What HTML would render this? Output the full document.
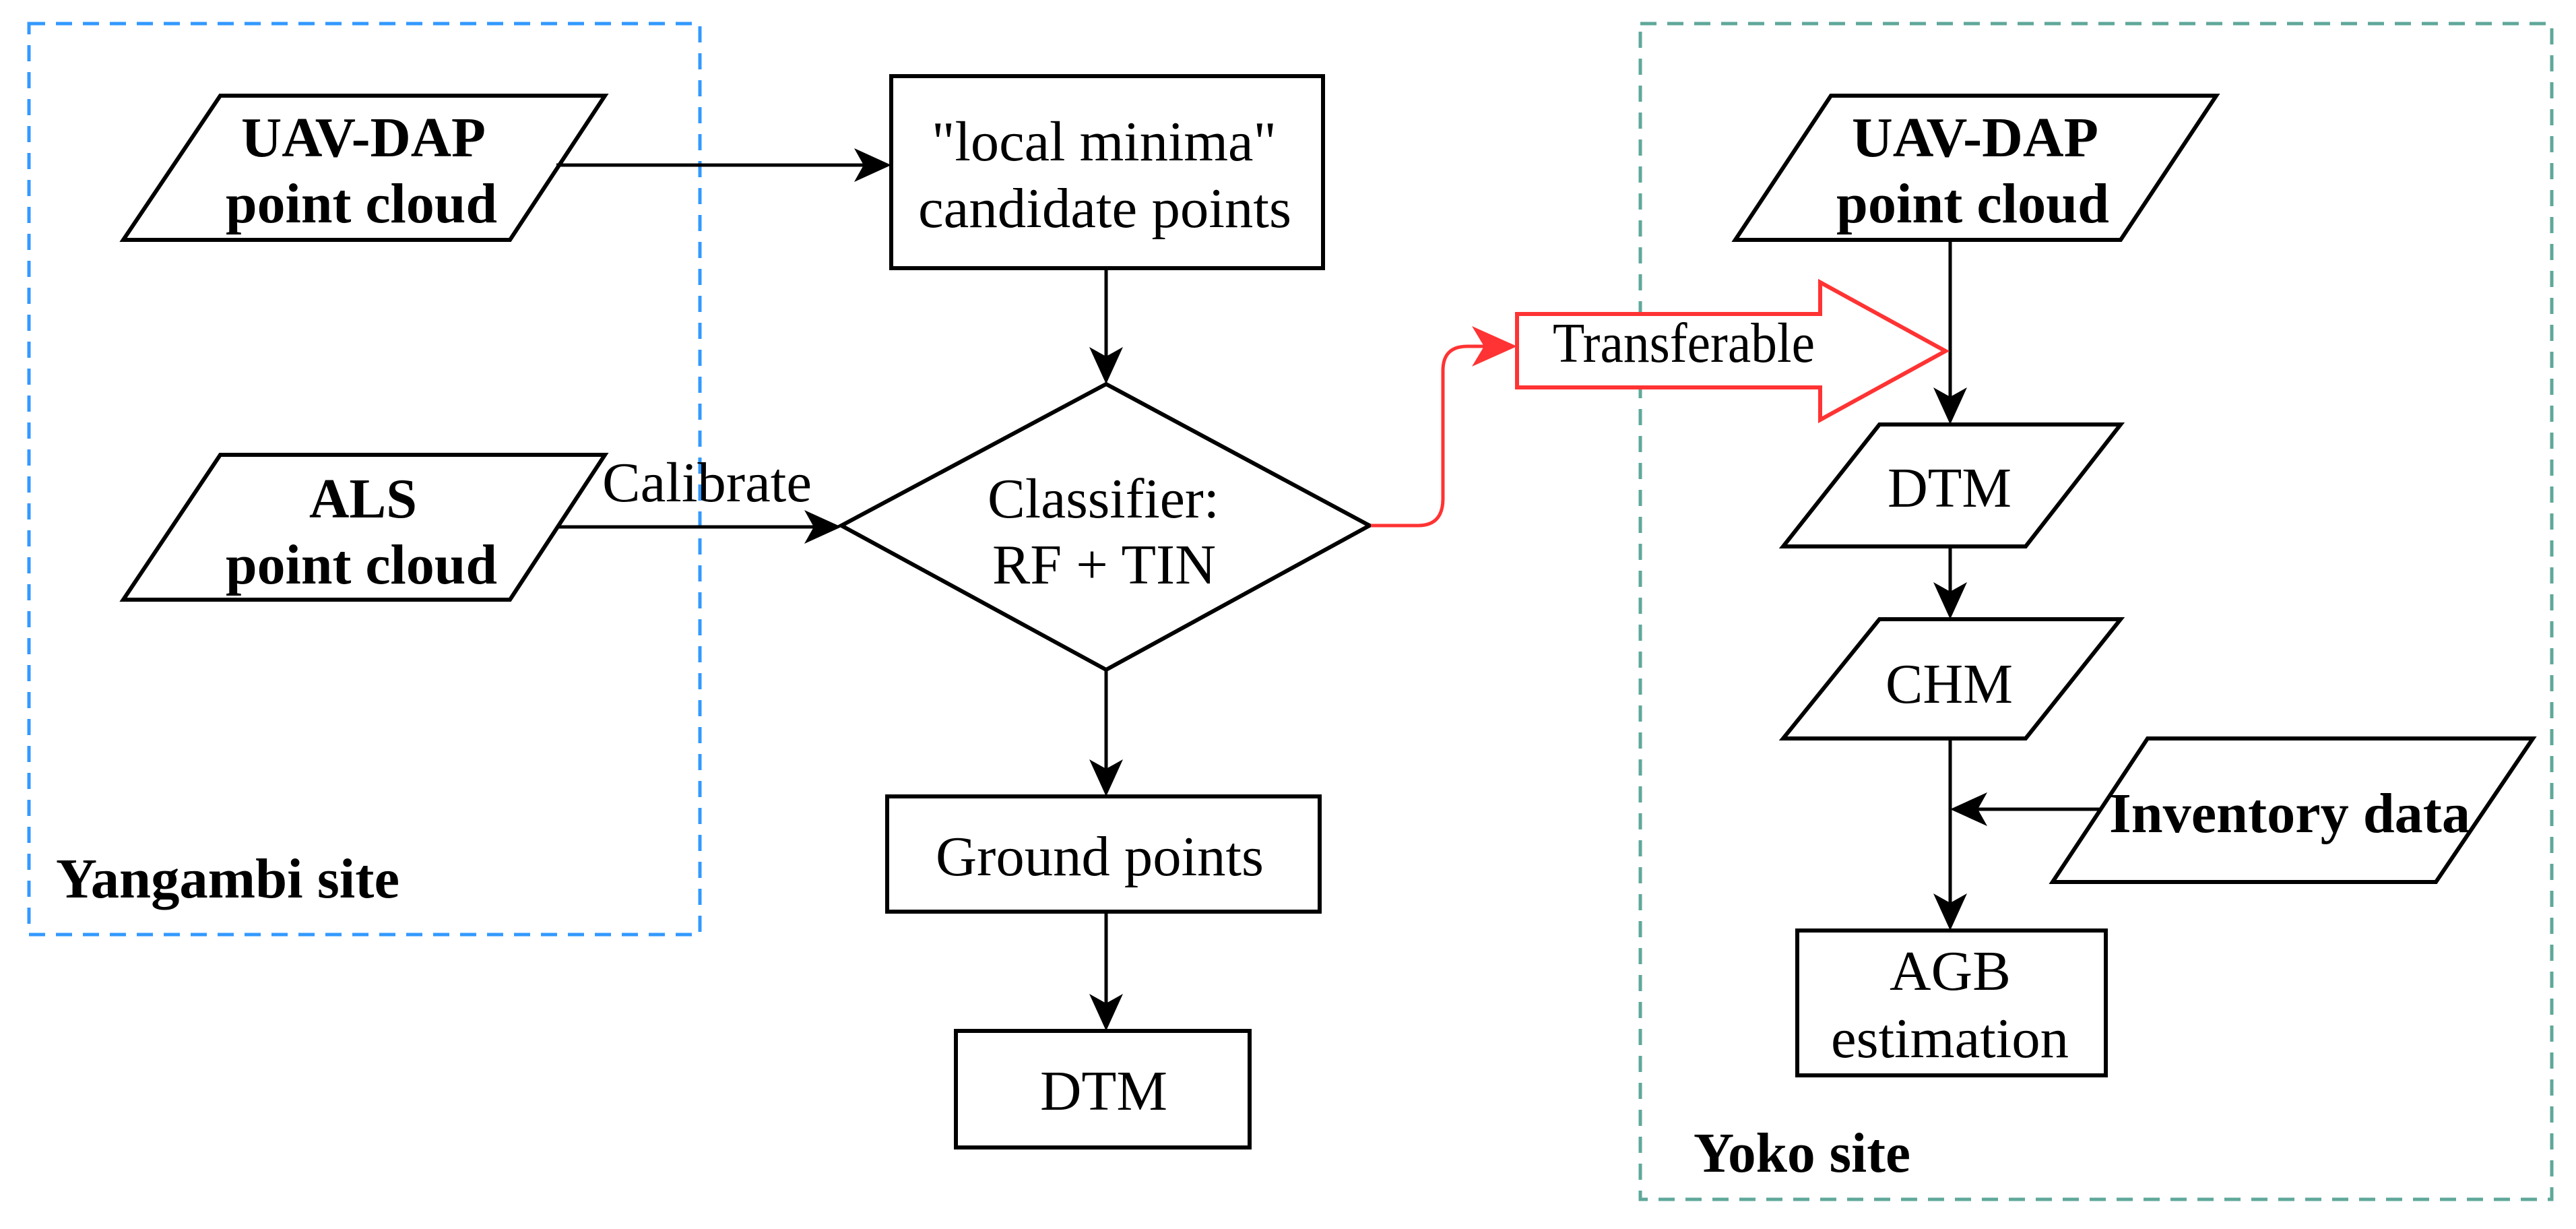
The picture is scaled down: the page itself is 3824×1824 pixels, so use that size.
<!DOCTYPE html>
<html><head><meta charset="utf-8"><style>html,body{margin:0;padding:0;background:#fff}svg{display:block}</style></head>
<body>
<svg width="3824" height="1824" viewBox="0 0 3824 1824" xmlns="http://www.w3.org/2000/svg" font-family="Liberation Serif, serif">
<rect width="3824" height="1824" fill="#fff"/>
<!-- group boxes -->
<rect x="43" y="35" width="996" height="1352" fill="none" stroke="#3399ff" stroke-width="5" stroke-dasharray="24,16"/>
<rect x="2435" y="35" width="1353" height="1745" fill="none" stroke="#5fa89a" stroke-width="5" stroke-dasharray="24,16"/>

<g fill="none" stroke="#000" stroke-width="6">
<!-- left parallelograms -->
<polygon points="327,142 898,142 757,356 183,356"/>
<polygon points="327,675 898,675 757,890 183,890"/>
<rect x="1323" y="113" width="641" height="285"/>
<polygon points="1642,570 2033,780 1642,994 1249,780"/>
<rect x="1317" y="1182" width="642" height="171"/>
<rect x="1419" y="1530" width="436" height="173"/>
<!-- right side -->
<polygon points="2718,142 3290,142 3148,356 2576,356"/>
<polygon points="2790,630 3148,630 3007,811 2647,811"/>
<polygon points="2790,919 3148,919 3007,1096 2647,1096"/>
<polygon points="3188,1096 3760,1096 3616,1309 3047,1309"/>
<rect x="2668" y="1381" width="458" height="215"/>
</g>

<g stroke="#000" stroke-width="5" fill="none">
<line x1="826" y1="245" x2="1290" y2="245"/>
<line x1="826" y1="782" x2="1215" y2="782"/>
<line x1="1642" y1="398" x2="1642" y2="540"/>
<line x1="1642" y1="994" x2="1642" y2="1150"/>
<line x1="1642" y1="1353" x2="1642" y2="1500"/>
<line x1="2895" y1="356" x2="2895" y2="600"/>
<line x1="2895" y1="811" x2="2895" y2="890"/>
<line x1="2895" y1="1096" x2="2895" y2="1350"/>
<line x1="3118" y1="1201" x2="2925" y2="1201"/>
</g>
<g fill="#000">
<polygon points="1323,245 1268,220 1282,245 1268,270"/>
<polygon points="1249,782 1194,757 1208,782 1194,807"/>
<polygon points="1642,570 1617,515 1642,529 1667,515"/>
<polygon points="1642,1182 1617,1127 1642,1141 1667,1127"/>
<polygon points="1642,1530 1617,1475 1642,1489 1667,1475"/>
<polygon points="2895,630 2870,575 2895,589 2920,575"/>
<polygon points="2895,919 2870,864 2895,878 2920,864"/>
<polygon points="2895,1381 2870,1326 2895,1340 2920,1326"/>
<polygon points="2895,1201 2950,1176 2936,1201 2950,1226"/>
</g>

<!-- red connector and block arrow -->
<path d="M2035,780 H2105 Q2142,780 2142,740 V550 Q2142,514 2178,514 H2215" fill="none" stroke="#ff3333" stroke-width="5"/>
<polygon points="2252,514 2185,484 2203,514 2185,544" fill="#ff3333"/>
<polygon points="2252,466 2702,466 2702,419 2888,521 2702,623 2702,575 2252,575" fill="#fff" stroke="#ff3333" stroke-width="6"/>

<!-- texts -->
<g font-size="84" fill="#000">
<g font-weight="bold">
<text x="358" y="232" textLength="363" lengthAdjust="spacingAndGlyphs">UAV-DAP</text>
<text x="335" y="330" textLength="403" lengthAdjust="spacingAndGlyphs">point cloud</text>
<text x="459" y="768" textLength="160" lengthAdjust="spacingAndGlyphs">ALS</text>
<text x="335" y="866" textLength="403" lengthAdjust="spacingAndGlyphs">point cloud</text>
<text x="83" y="1332" textLength="510" lengthAdjust="spacingAndGlyphs">Yangambi site</text>
<text x="2749" y="232" textLength="366" lengthAdjust="spacingAndGlyphs">UAV-DAP</text>
<text x="2726" y="330" textLength="405" lengthAdjust="spacingAndGlyphs">point cloud</text>
<text x="3131" y="1235" textLength="536" lengthAdjust="spacingAndGlyphs">Inventory data</text>
<text x="2514" y="1739" textLength="322" lengthAdjust="spacingAndGlyphs">Yoko site</text>
</g>
<text x="1383" y="238" textLength="512" lengthAdjust="spacingAndGlyphs">"local minima"</text>
<text x="1363" y="337" textLength="554" lengthAdjust="spacingAndGlyphs">candidate points</text>
<text x="1466" y="768" textLength="344" lengthAdjust="spacingAndGlyphs">Classifier:</text>
<text x="1473" y="866" textLength="332" lengthAdjust="spacingAndGlyphs">RF + TIN</text>
<text x="894" y="744" textLength="311" lengthAdjust="spacingAndGlyphs">Calibrate</text>
<text x="1389" y="1299" textLength="487" lengthAdjust="spacingAndGlyphs">Ground points</text>
<text x="1544" y="1647" textLength="189" lengthAdjust="spacingAndGlyphs">DTM</text>
<text x="2305" y="537" textLength="389" lengthAdjust="spacingAndGlyphs">Transferable</text>
<text x="2802" y="752" textLength="184" lengthAdjust="spacingAndGlyphs">DTM</text>
<text x="2799" y="1043" textLength="189" lengthAdjust="spacingAndGlyphs">CHM</text>
<text x="2805" y="1469" textLength="180" lengthAdjust="spacingAndGlyphs">AGB</text>
<text x="2718" y="1569" textLength="353" lengthAdjust="spacingAndGlyphs">estimation</text>
</g>
</svg>
</body></html>
